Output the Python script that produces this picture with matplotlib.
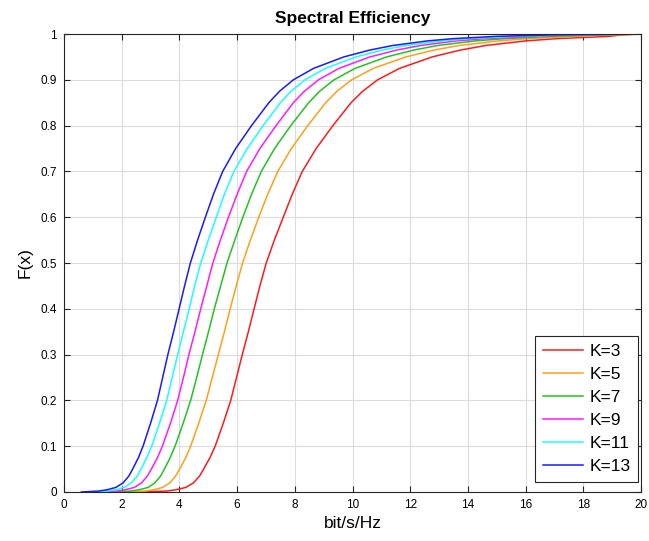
import numpy as np
import matplotlib
matplotlib.use("Agg")
import matplotlib.pyplot as plt

plt.rcParams["font.family"] = ["Liberation Sans", "DejaVu Sans"]

# CDF levels and the x position (bit/s/Hz) where each curve reaches them
cdf_levels = [0, 0.002, 0.005, 0.01, 0.02, 0.035, 0.05, 0.075, 0.1, 0.15, 0.2, 0.25,
              0.3, 0.35, 0.4, 0.45, 0.5, 0.55, 0.6, 0.65, 0.7, 0.75, 0.8, 0.85, 0.875,
              0.9, 0.925, 0.95, 0.965, 0.975, 0.985, 0.99, 0.995, 0.998, 1.0]

x_k3 = [2.6, 3.55, 3.9, 4.22, 4.49, 4.7, 4.84, 5.06, 5.24, 5.52, 5.78, 5.98, 6.18, 6.39,
        6.59, 6.79, 7.01, 7.29, 7.6, 7.91, 8.26, 8.74, 9.32, 9.95, 10.35, 10.87, 11.63,
        12.76, 13.74, 14.62, 16.0, 17.1, 18.9, 19.3, 20]
x_k5 = [2.0, 2.8, 3.12, 3.42, 3.67, 3.87, 4.01, 4.22, 4.39, 4.67, 4.93, 5.14, 5.35, 5.56,
        5.76, 5.97, 6.19, 6.46, 6.75, 7.06, 7.41, 7.88, 8.45, 9.07, 9.46, 9.97, 10.72,
        11.85, 12.82, 13.7, 15.05, 16.1, 17.8, 18.8, 20]
x_k7 = [1.5, 2.3, 2.62, 2.92, 3.15, 3.35, 3.48, 3.68, 3.85, 4.13, 4.39, 4.6, 4.8, 5.01,
        5.21, 5.43, 5.65, 5.92, 6.2, 6.5, 6.84, 7.3, 7.86, 8.48, 8.86, 9.36, 10.09,
        11.18, 12.12, 12.96, 14.25, 15.3, 16.9, 18.3, 20]
x_k9 = [1.2, 1.83, 2.14, 2.44, 2.69, 2.89, 3.03, 3.24, 3.41, 3.69, 3.94, 4.14, 4.33, 4.54,
        4.74, 4.95, 5.16, 5.42, 5.7, 6.0, 6.33, 6.79, 7.35, 7.95, 8.33, 8.82, 9.53,
        10.6, 11.53, 12.36, 13.6, 14.6, 16.2, 17.8, 20]
x_k11 = [0.9, 1.5, 1.8, 2.09, 2.34, 2.54, 2.67, 2.87, 3.04, 3.31, 3.56, 3.75, 3.94, 4.14,
         4.34, 4.53, 4.74, 5.0, 5.28, 5.56, 5.89, 6.35, 6.9, 7.5, 7.87, 8.35, 9.06,
         10.12, 11.04, 11.86, 13.1, 14.05, 15.6, 17.3, 20]
x_k13 = [0.6, 1.2, 1.5, 1.8, 2.05, 2.25, 2.38, 2.58, 2.74, 3.0, 3.24, 3.42, 3.6, 3.8,
         3.99, 4.18, 4.38, 4.63, 4.9, 5.18, 5.5, 5.95, 6.5, 7.1, 7.47, 7.95, 8.65,
         9.7, 10.6, 11.4, 12.6, 13.5, 15.0, 16.8, 20]

labels = ["K=3", "K=5", "K=7", "K=9", "K=11", "K=13"]
colors = ["#ff1a1a", "#ff9f1a", "#22c322", "#ff1aff", "#1affff", "#1a1aff"]
series = [x_k3, x_k5, x_k7, x_k9, x_k11, x_k13]

fig = plt.figure(figsize=(6.49, 5.41), dpi=100)
ax = fig.add_axes([0.0986, 0.0906, 0.8891, 0.8465])

for xs, lab, col in zip(series, labels, colors):
    ax.plot(xs, cdf_levels, color=col, lw=1.1, label=lab)

ax.set_xlim(0, 20)
ax.set_ylim(0, 1)
ax.set_xticks(np.arange(0, 21, 2))
ax.set_yticks(np.arange(0, 1.01, 0.1))
ax.set_yticklabels(["0", "0.1", "0.2", "0.3", "0.4", "0.5", "0.6", "0.7", "0.8", "0.9", "1"])
ax.grid(True, color="#dcdcdc", lw=0.8)
ax.set_axisbelow(True)
ax.tick_params(direction="in", top=True, right=True, labelsize=8.5, length=4,
               color="#262626", pad=5)
for sp in ax.spines.values():
    sp.set_color("#262626")
    sp.set_linewidth(0.8)

ax.set_title("Spectral Efficiency", fontsize=12.5, fontweight="bold", pad=8)
ax.set_xlabel("bit/s/Hz", fontsize=12.5, labelpad=4)
ax.set_ylabel("F(x)", fontsize=12.5, labelpad=6)

leg = ax.legend(loc="lower right", bbox_to_anchor=(0.995, 0.022), borderaxespad=0,
                fontsize=12.5, fancybox=False, framealpha=1, edgecolor="#262626",
                handlelength=2.3, labelspacing=0.45, handletextpad=0.35,
                borderpad=0.45)
leg.get_frame().set_linewidth(0.8)

fig.savefig("out.png", dpi=100)
